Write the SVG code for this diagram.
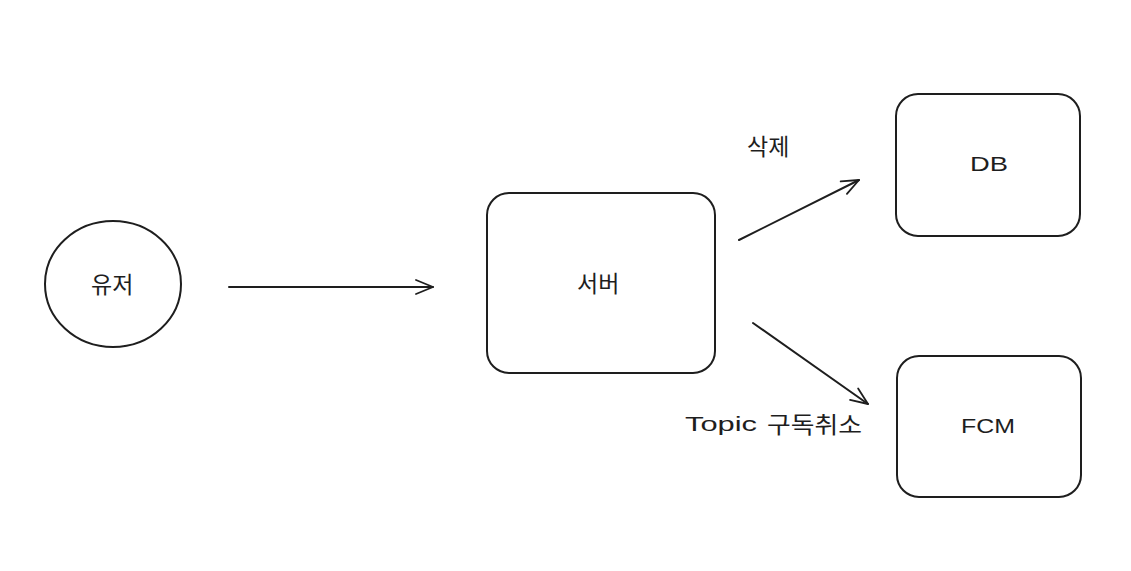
<svg xmlns="http://www.w3.org/2000/svg" width="1131" height="571" viewBox="0 0 1131 571">
<defs>
<style>
.node{fill:#ffffff;stroke:#1e1e1e;stroke-width:2}
.lbl{font-family:"Liberation Sans","Noto Sans CJK KR",sans-serif;font-size:21px;fill:#1e1e1e;dominant-baseline:central}
.ko{font-family:"Noto Sans CJK KR","Liberation Sans",sans-serif;font-size:23px;fill:#1e1e1e;dominant-baseline:central}
.edge{stroke:#1e1e1e;stroke-width:2;fill:none;stroke-linecap:round}
</style>
<marker id="arr" viewBox="0 0 20 20" refX="19" refY="10" markerWidth="20" markerHeight="20" markerUnits="userSpaceOnUse" orient="auto">
<path d="M2,3 L19,10 L2,17" fill="none" stroke="#1e1e1e" stroke-width="1.8" stroke-linecap="round" stroke-linejoin="round"/>
</marker>
</defs>
<rect width="1131" height="571" fill="#ffffff"/>
<g id="user">
<ellipse class="node" cx="113" cy="284" rx="68" ry="63"/>
<text class="ko" x="91" y="283">유저</text>
</g>
<g id="server">
<rect class="node" x="487" y="193" width="228" height="180" rx="22"/>
<text class="ko" x="577" y="282">서버</text>
</g>
<g id="db">
<rect class="node" x="896" y="94" width="184" height="142" rx="22"/>
<text class="lbl" x="970" y="163" textLength="38" lengthAdjust="spacingAndGlyphs">DB</text>
</g>
<g id="fcm">
<rect class="node" x="897" y="356" width="184" height="141" rx="22"/>
<text class="lbl" x="961" y="425" textLength="54" lengthAdjust="spacingAndGlyphs">FCM</text>
</g>
<g id="connectors">
<line class="edge" x1="229" y1="287" x2="433" y2="287" marker-end="url(#arr)"/>
<line class="edge" x1="739" y1="240" x2="859" y2="180" marker-end="url(#arr)"/>
<line class="edge" x1="753" y1="323" x2="868" y2="404" marker-end="url(#arr)"/>
<text class="ko" x="747" y="145">삭제</text>
<text class="lbl" x="685" y="423"><tspan textLength="72" lengthAdjust="spacingAndGlyphs">Topic</tspan><tspan class="ko" x="767" textLength="95" lengthAdjust="spacingAndGlyphs">구독취소</tspan></text>
</g>
</svg>
